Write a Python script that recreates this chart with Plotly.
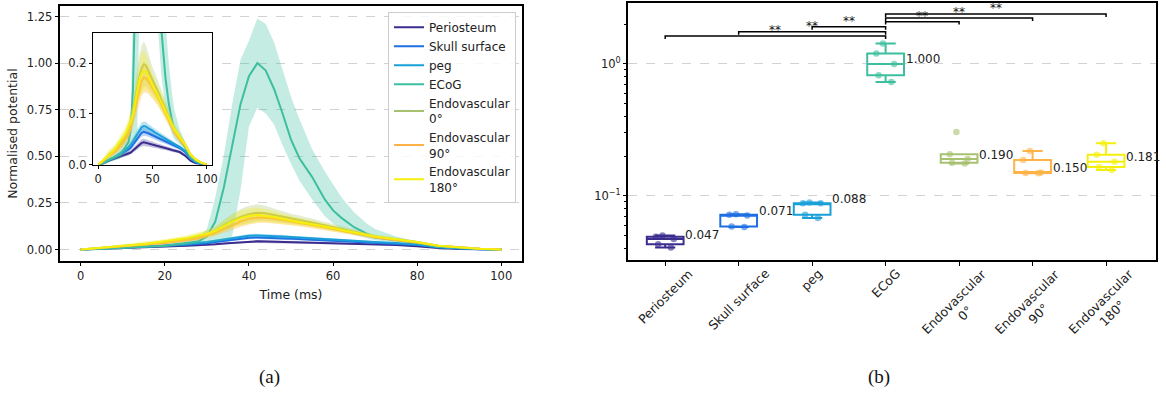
import numpy as np
import plotly.graph_objects as go

# ---------------- data: panel (a) ----------------
time_ms = [0, 5, 10, 15, 20, 25, 28, 30, 32, 34, 36, 38, 40, 42, 44, 46,
           48, 50, 52, 55, 58, 60, 62, 65, 68, 70, 75, 80, 85, 90, 95, 100]

periosteum_mean = [0, 0.003, 0.008, 0.012, 0.016, 0.020, 0.022, 0.024, 0.028, 0.032, 0.036, 0.040, 0.043, 0.044, 0.043, 0.042,
                   0.041, 0.040, 0.039, 0.037, 0.035, 0.034, 0.033, 0.031, 0.029, 0.028, 0.025, 0.018, 0.008, 0.003, 0.001, 0]
periosteum_sd = [0, 0.001, 0.002, 0.003, 0.003, 0.004, 0.004, 0.004, 0.005, 0.005, 0.006, 0.006, 0.007, 0.007, 0.007, 0.006,
                 0.006, 0.006, 0.005, 0.005, 0.005, 0.005, 0.004, 0.004, 0.004, 0.004, 0.003, 0.003, 0.002, 0.001, 0.001, 0]

skull_mean = [0, 0.004, 0.009, 0.014, 0.020, 0.026, 0.030, 0.034, 0.040, 0.046, 0.052, 0.058, 0.063, 0.065, 0.064, 0.062,
              0.060, 0.058, 0.056, 0.053, 0.050, 0.048, 0.046, 0.043, 0.040, 0.038, 0.033, 0.025, 0.012, 0.005, 0.002, 0]
skull_sd = [0, 0.001, 0.002, 0.003, 0.004, 0.004, 0.005, 0.005, 0.006, 0.006, 0.007, 0.007, 0.008, 0.008, 0.008, 0.007,
            0.007, 0.007, 0.006, 0.006, 0.006, 0.005, 0.005, 0.005, 0.004, 0.004, 0.004, 0.003, 0.002, 0.001, 0.001, 0]

peg_mean = [0, 0.004, 0.010, 0.015, 0.022, 0.030, 0.035, 0.040, 0.047, 0.054, 0.062, 0.069, 0.074, 0.076, 0.075, 0.072,
            0.070, 0.067, 0.064, 0.060, 0.056, 0.053, 0.050, 0.047, 0.043, 0.041, 0.035, 0.027, 0.013, 0.005, 0.002, 0]
peg_sd = [0, 0.001, 0.002, 0.003, 0.004, 0.005, 0.005, 0.006, 0.006, 0.007, 0.008, 0.008, 0.009, 0.009, 0.009, 0.008,
          0.008, 0.007, 0.007, 0.006, 0.006, 0.006, 0.005, 0.005, 0.005, 0.004, 0.004, 0.003, 0.002, 0.001, 0.001, 0]

ecog_mean = [0, 0.003, 0.010, 0.015, 0.020, 0.035, 0.045, 0.070, 0.150, 0.330, 0.550, 0.780, 0.930, 1.000, 0.960, 0.860,
             0.730, 0.590, 0.490, 0.390, 0.270, 0.210, 0.170, 0.120, 0.085, 0.065, 0.050, 0.035, 0.015, 0.007, 0.003, 0]
ecog_upper = [0.001, 0.006, 0.015, 0.022, 0.030, 0.050, 0.060, 0.110, 0.280, 0.500, 0.780, 1.020, 1.120, 1.240, 1.210, 1.110,
              0.970, 0.820, 0.700, 0.540, 0.420, 0.350, 0.280, 0.200, 0.140, 0.110, 0.070, 0.045, 0.020, 0.010, 0.005, 0.001]
ecog_lower = [0, 0.001, 0.005, 0.009, 0.012, 0.022, 0.032, 0.040, 0.045, 0.050, 0.070, 0.320, 0.660, 0.760, 0.730, 0.670,
              0.560, 0.460, 0.370, 0.270, 0.180, 0.140, 0.110, 0.080, 0.060, 0.050, 0.040, 0.028, 0.010, 0.004, 0.001, 0]

endo0_mean = [0, 0.008, 0.020, 0.028, 0.040, 0.055, 0.070, 0.085, 0.100, 0.130, 0.155, 0.175, 0.190, 0.198, 0.195, 0.185,
              0.175, 0.165, 0.158, 0.145, 0.130, 0.120, 0.110, 0.095, 0.080, 0.070, 0.055, 0.040, 0.020, 0.010, 0.004, 0]
endo0_sd = [0, 0.003, 0.006, 0.008, 0.010, 0.012, 0.015, 0.018, 0.022, 0.028, 0.035, 0.042, 0.045, 0.045, 0.040, 0.035,
            0.030, 0.027, 0.025, 0.022, 0.020, 0.018, 0.016, 0.014, 0.012, 0.010, 0.008, 0.006, 0.004, 0.002, 0.001, 0]

endo90_mean = [0, 0.008, 0.018, 0.025, 0.035, 0.050, 0.060, 0.075, 0.090, 0.110, 0.130, 0.150, 0.165, 0.172, 0.170, 0.165,
               0.158, 0.150, 0.143, 0.133, 0.120, 0.110, 0.100, 0.088, 0.075, 0.065, 0.050, 0.038, 0.020, 0.010, 0.004, 0]
endo90_sd = [0, 0.002, 0.005, 0.006, 0.008, 0.010, 0.012, 0.014, 0.017, 0.021, 0.025, 0.028, 0.030, 0.030, 0.028, 0.025,
             0.022, 0.020, 0.018, 0.016, 0.015, 0.014, 0.012, 0.011, 0.010, 0.009, 0.007, 0.005, 0.003, 0.002, 0.001, 0]

endo180_mean = [0, 0.010, 0.022, 0.030, 0.045, 0.060, 0.075, 0.085, 0.100, 0.125, 0.150, 0.168, 0.180, 0.185, 0.182, 0.175,
                0.165, 0.155, 0.147, 0.136, 0.125, 0.115, 0.105, 0.092, 0.080, 0.070, 0.055, 0.040, 0.020, 0.010, 0.004, 0]
endo180_sd = [0, 0.004, 0.008, 0.010, 0.012, 0.015, 0.018, 0.020, 0.024, 0.030, 0.036, 0.040, 0.042, 0.040, 0.036, 0.032,
              0.028, 0.025, 0.022, 0.020, 0.018, 0.016, 0.014, 0.012, 0.011, 0.010, 0.008, 0.006, 0.004, 0.002, 0.001, 0]

# ---------------- data: panel (b) ----------------
categories = ["Periosteum", "Skull surface", "peg", "ECoG",
              "Endovascular<br>0°", "Endovascular<br>90°", "Endovascular<br>180°"]
colors = ["#3b2d8e", "#1f6fe2", "#1aa0d9", "#3dbf9f", "#a6c270", "#ffb347", "#f5f00a"]

periosteum_pts = [0.0500, 0.0490, 0.0470, 0.0430, 0.0405]
skull_pts = [0.0725, 0.0720, 0.0710, 0.0585, 0.0580]
peg_pts = [0.0890, 0.0880, 0.0880, 0.0720, 0.0680]
ecog_pts = [1.43, 1.20, 1.00, 0.82, 0.73]
endo0_pts = [0.304, 0.207, 0.190, 0.178, 0.176]
endo90_pts = [0.219, 0.187, 0.150, 0.149, 0.148]
endo180_pts = [0.250, 0.205, 0.181, 0.165, 0.157]

sig_pairs = [(0, 3), (1, 3), (2, 3), (3, 4), (3, 5), (3, 6)]
sig_heights = [1.624, 1.752, 1.909, 2.090, 2.227, 2.385]
sig_labels = ["**", "**", "**", "**", "**", "**"]

# ---------------- helpers ----------------
W, H = 1166, 396


def px_x(p):
    return p / W


def px_y(p):
    return 1 - p / H


def rgba(hexc, a):
    h = hexc.lstrip("#")
    return "rgba(%d,%d,%d,%.2f)" % (int(h[0:2], 16), int(h[2:4], 16), int(h[4:6], 16), a)


t = np.array(time_ms, dtype=float)
series = [
    (np.array(periosteum_mean), np.array(periosteum_mean) - np.array(periosteum_sd), np.array(periosteum_mean) + np.array(periosteum_sd)),
    (np.array(skull_mean), np.array(skull_mean) - np.array(skull_sd), np.array(skull_mean) + np.array(skull_sd)),
    (np.array(peg_mean), np.array(peg_mean) - np.array(peg_sd), np.array(peg_mean) + np.array(peg_sd)),
    (np.array(ecog_mean), np.array(ecog_lower), np.array(ecog_upper)),
    (np.array(endo0_mean), np.array(endo0_mean) - np.array(endo0_sd), np.array(endo0_mean) + np.array(endo0_sd)),
    (np.array(endo90_mean), np.array(endo90_mean) - np.array(endo90_sd), np.array(endo90_mean) + np.array(endo90_sd)),
    (np.array(endo180_mean), np.array(endo180_mean) - np.array(endo180_sd), np.array(endo180_mean) + np.array(endo180_sd)),
]
box_pts = [periosteum_pts, skull_pts, peg_pts, ecog_pts, endo0_pts, endo90_pts, endo180_pts]

fig = go.Figure()

for xa, ya, legend in [("x", "y", True), ("x3", "y3", False)]:
    for i, (m, lo, hi) in enumerate(series):
        fig.add_trace(go.Scatter(
            x=np.concatenate([t, t[::-1]]), y=np.concatenate([hi, lo[::-1]]),
            fill="toself", fillcolor=rgba(colors[i], 0.30), line=dict(width=0),
            mode="lines", hoverinfo="skip", showlegend=False, xaxis=xa, yaxis=ya))
        fig.add_trace(go.Scatter(
            x=t, y=m, mode="lines", name=categories[i],
            line=dict(color=colors[i], width=2), showlegend=legend,
            xaxis=xa, yaxis=ya))

# box plots
for i, pts in enumerate(box_pts):
    fig.add_trace(go.Box(
        y=pts, x0=i, name=categories[i], xaxis="x2", yaxis="y2",
        boxpoints="all", jitter=0.6, pointpos=0, width=0.5, whiskerwidth=0.55,
        quartilemethod="inclusive",
        line=dict(color=colors[i], width=2), fillcolor="rgba(255,255,255,0)",
        marker=dict(color=rgba(colors[i], 0.6), size=6.5, line=dict(width=0)),
        showlegend=False, hoverinfo="y"))

annotations = []
# median labels
for i, pts in enumerate(box_pts):
    med = float(np.median(pts))
    annotations.append(dict(
        x=i + 0.245, y=np.log10(med), xref="x2", yref="y2", text="%.3f" % med,
        showarrow=False, xanchor="left", yanchor="middle", yshift=4.5,
        font=dict(size=12, color="#222")))

# significance brackets
for (a, b), h, lab in zip(sig_pairs, sig_heights, sig_labels):
    drop = h * 0.95
    fig.add_trace(go.Scatter(
        x=[a, a, b, b], y=[drop, h, h, drop], mode="lines",
        line=dict(color="black", width=1.5), xaxis="x2", yaxis="y2",
        showlegend=False, hoverinfo="skip"))
    annotations.append(dict(
        x=(a + b) / 2, y=np.log10(h), xref="x2", yref="y2", text=lab,
        showarrow=False, xanchor="center", yanchor="bottom", yshift=-3,
        font=dict(size=12, color="#111111")))

# category tick labels (rotated, centred on tick)
for i, name in enumerate(categories):
    annotations.append(dict(
        x=i, y=px_y(268), xref="x2", yref="paper", text=name, textangle=-45,
        showarrow=False, xanchor="center", yanchor="top", align="center",
        font=dict(size=12.5, color="#222")))

# captions
annotations.append(dict(x=px_x(271), y=px_y(384), xref="paper", yref="paper", text="(a)",
                        showarrow=False, xanchor="center", yanchor="middle",
                        font=dict(family="Liberation Serif", size=19, color="#111")))
annotations.append(dict(x=px_x(884), y=px_y(384), xref="paper", yref="paper", text="(b)",
                        showarrow=False, xanchor="center", yanchor="middle",
                        font=dict(family="Liberation Serif", size=19, color="#111")))

axis_common = dict(showline=True, linecolor="black", mirror=True, zeroline=False,
                   ticks="outside", tickcolor="black", tickwidth=1,
                   tickfont=dict(size=11.5, color="#222"))

minor_vals = [0.04, 0.05, 0.06, 0.07, 0.08, 0.09, 0.2, 0.3, 0.4, 0.5, 0.6, 0.7, 0.8, 0.9, 2.0]

fig.update_layout(
    width=W, height=H, margin=dict(l=0, r=0, t=0, b=0),
    paper_bgcolor="white", plot_bgcolor="white",
    font=dict(family="DejaVu Sans", size=11, color="#222"),
    legend=dict(x=px_x(390), y=px_y(12), xanchor="left", yanchor="top",
                bgcolor="rgba(255,255,255,0.85)", bordercolor="#cccccc", borderwidth=1,
                font=dict(size=12, color="#222"), tracegroupgap=0),
    xaxis=dict(domain=[px_x(60), px_x(525)], anchor="y", range=[-5, 105],
               tickvals=[0, 20, 40, 60, 80, 100], ticklen=3, linewidth=2, showgrid=False,
               title=dict(text="Time (ms)", font=dict(size=12.5), standoff=8), **axis_common),
    yaxis=dict(domain=[px_y(266), px_y(6)], anchor="x", range=[-0.063, 1.307],
               tickvals=[0, 0.25, 0.5, 0.75, 1.0, 1.25], tickformat=".2f", ticklen=3, linewidth=2,
               showgrid=True, gridcolor="#d2d2d2", griddash="dash", gridwidth=1,
               title=dict(text="Normalised potential", font=dict(size=12.5), standoff=6), **axis_common),
    xaxis3=dict(domain=[px_x(93.3), px_x(213.3)], anchor="y3", range=[-5, 105],
                tickvals=[0, 50, 100], ticklen=3, linewidth=1, showgrid=False, **axis_common),
    yaxis3=dict(domain=[px_y(167.7), px_y(33.3)], anchor="x3", range=[0, 0.26],
                tickvals=[0, 0.1, 0.2], tickformat=".1f", ticklen=3, linewidth=1, showgrid=False,
                **axis_common),
    xaxis2=dict(domain=[px_x(631.7), px_x(1162)], anchor="y2", range=[-0.5, 6.68],
                tickvals=list(range(len(categories))), showticklabels=False, ticklen=4,
                linewidth=2, showgrid=False, **axis_common),
    yaxis2=dict(domain=[px_y(265), px_y(3)], anchor="x2", type="log", range=[-1.489, 0.462],
                tickvals=[0.1, 1], ticktext=["10<sup>−1</sup>", "10<sup>0</sup>"], ticklen=3.5,
                linewidth=2, showgrid=True, gridcolor="#d2d2d2", griddash="dash", gridwidth=1,
                minor=dict(tickvals=minor_vals, ticks="outside", ticklen=2, tickcolor="black", showgrid=False),
                **axis_common),
    annotations=annotations,
)

fig.write_html("out.html")
